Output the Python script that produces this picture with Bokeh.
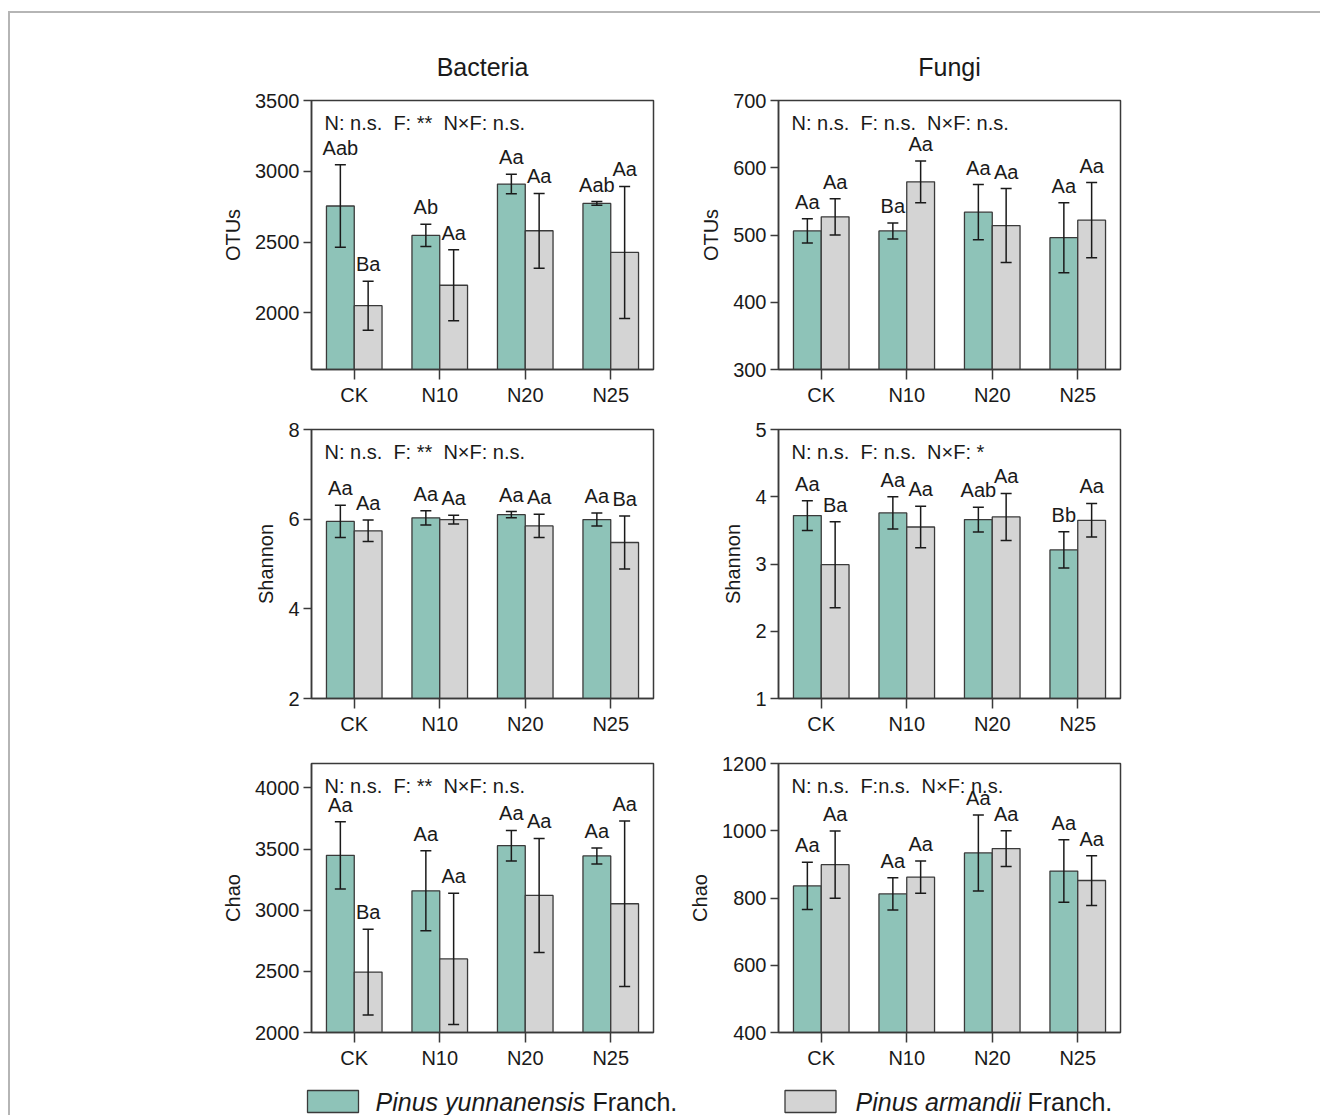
from bokeh.plotting import figure
from bokeh.models import FactorRange, Range1d, FixedTicker, Label, ColumnDataSource
from bokeh.transform import dodge
from bokeh.layouts import column, row
from bokeh.core.properties import value
from bokeh.embed import file_html
from bokeh.resources import INLINE

FONT = "Liberation Sans"
GREEN = "#8ec3b8"
GREY = "#d4d4d4"
EDGE = "#3a3a3a"
SP = "\u00a0\u00a0"

treatments = ["CK", "N10", "N20", "N25"]
species = ["Pinus yunnanensis", "Pinus armandii"]

# ---- Bacteria OTUs ----
bac_otu_py = [2755, 2547, 2910, 2773]
bac_otu_py_err = [292, 79, 69, 13]
bac_otu_pa = [2051, 2195, 2580, 2427]
bac_otu_pa_err = [173, 250, 264, 466]
bac_otu_py_lab = ["Aab", "Ab", "Aa", "Aab"]
bac_otu_pa_lab = ["Ba", "Aa", "Aa", "Aa"]

# ---- Fungi OTUs ----
fun_otu_py = [506, 506, 534, 496]
fun_otu_py_err = [18, 12, 41, 52]
fun_otu_pa = [527, 579, 514, 522]
fun_otu_pa_err = [27, 31, 55, 56]
fun_otu_py_lab = ["Aa", "Ba", "Aa", "Aa"]
fun_otu_pa_lab = ["Aa", "Aa", "Aa", "Aa"]

# ---- Bacteria Shannon ----
bac_sha_py = [5.95, 6.03, 6.10, 5.99]
bac_sha_py_err = [0.36, 0.16, 0.07, 0.145]
bac_sha_pa = [5.74, 5.99, 5.85, 5.48]
bac_sha_pa_err = [0.24, 0.10, 0.26, 0.59]
bac_sha_py_lab = ["Aa", "Aa", "Aa", "Aa"]
bac_sha_pa_lab = ["Aa", "Aa", "Aa", "Ba"]

# ---- Fungi Shannon ----
fun_sha_py = [3.72, 3.76, 3.66, 3.21]
fun_sha_py_err = [0.22, 0.24, 0.185, 0.27]
fun_sha_pa = [2.99, 3.55, 3.70, 3.65]
fun_sha_pa_err = [0.64, 0.31, 0.35, 0.25]
fun_sha_py_lab = ["Aa", "Aa", "Aab", "Bb"]
fun_sha_pa_lab = ["Ba", "Aa", "Aa", "Aa"]

# ---- Bacteria Chao ----
bac_chao_py = [3449, 3159, 3528, 3444]
bac_chao_py_err = [275, 327, 125, 65]
bac_chao_pa = [2494, 2602, 3121, 3053]
bac_chao_pa_err = [350, 536, 466, 677]
bac_chao_py_lab = ["Aa", "Aa", "Aa", "Aa"]
bac_chao_pa_lab = ["Ba", "Aa", "Aa", "Aa"]

# ---- Fungi Chao ----
fun_chao_py = [836, 812, 934, 880]
fun_chao_py_err = [70, 48, 113, 93]
fun_chao_pa = [899, 862, 947, 852]
fun_chao_pa_err = [100, 48, 53, 74]
fun_chao_py_lab = ["Aa", "Aa", "Aa", "Aa"]
fun_chao_pa_lab = ["Aa", "Aa", "Aa", "Aa"]

stats_bac_otu = SP.join(["N: n.s.", "F: **", "N×F: n.s."])
stats_fun_otu = SP.join(["N: n.s.", "F: n.s.", "N×F: n.s."])
stats_bac_sha = SP.join(["N: n.s.", "F: **", "N×F: n.s."])
stats_fun_sha = SP.join(["N: n.s.", "F: n.s.", "N×F: *"])
stats_bac_chao = SP.join(["N: n.s.", "F: **", "N×F: n.s."])
stats_fun_chao = SP.join(["N: n.s.", "F:n.s.", "N×F: n.s."])


def panel(py, py_err, pa, pa_err, py_lab, pa_lab, stats, ylabel, yr, ticks,
          width, height, mb, title=None):
    src = ColumnDataSource(dict(
        cat=treatments,
        py=py, py_lo=[v - e for v, e in zip(py, py_err)], py_hi=[v + e for v, e in zip(py, py_err)],
        pa=pa, pa_lo=[v - e for v, e in zip(pa, pa_err)], pa_hi=[v + e for v, e in zip(pa, pa_err)],
        py_lab=py_lab, pa_lab=pa_lab,
    ))
    p = figure(width=width, height=height,
               x_range=FactorRange(*treatments, range_padding=0),
               y_range=Range1d(yr[0], yr[1]),
               output_backend="svg", toolbar_location=None,
               min_border_left=mb[0], min_border_right=mb[1],
               min_border_top=mb[2], min_border_bottom=mb[3])
    p.background_fill_color = "white"
    p.border_fill_color = "white"
    p.outline_line_color = EDGE
    p.outline_line_width = 1.5
    p.xgrid.visible = False
    p.ygrid.visible = False
    if title:
        p.title.text = title
        p.title.align = "center"
        p.title.text_font = FONT
        p.title.text_font_size = "25px"
        p.title.text_font_style = "normal"
        p.title.text_color = "#1a1a1a"
        p.title.standoff = 39

    for ax in (p.xaxis[0], p.yaxis[0]):
        ax.axis_line_color = EDGE
        ax.axis_line_width = 1.5
        ax.major_tick_line_color = EDGE
        ax.major_tick_line_width = 1.5
        ax.major_tick_in = 0
        ax.minor_tick_line_color = None
        ax.major_label_text_font = FONT
        ax.major_label_text_font_size = "20px"
        ax.major_label_text_color = "#1a1a1a"
    p.xaxis.major_tick_out = 10
    p.xaxis.major_label_standoff = 4
    p.yaxis.major_tick_out = 8
    p.yaxis.major_label_standoff = 4
    p.yaxis.ticker = FixedTicker(ticks=ticks)
    p.yaxis.axis_label = ylabel
    p.yaxis.axis_label_text_font = FONT
    p.yaxis.axis_label_text_font_size = "20px"
    p.yaxis.axis_label_text_font_style = "normal"
    p.yaxis.axis_label_text_color = "#1a1a1a"
    p.yaxis.axis_label_standoff = 8

    off = 0.1625
    bw = 0.325
    for key, o, col in (("py", -off, GREEN), ("pa", off, GREY)):
        xs = dodge("cat", o, range=p.x_range)
        p.vbar(x=xs, top=key, bottom=yr[0], width=bw, source=src,
               fill_color=col, line_color=EDGE, line_width=1.3)
        p.segment(x0=xs, y0=key + "_lo", x1=xs, y1=key + "_hi", source=src,
                  line_color="#1a1a1a", line_width=1.5)
        for end in ("_lo", "_hi"):
            p.scatter(x=xs, y=key + end, marker="dash", size=11, source=src,
                      line_color="#1a1a1a", line_width=1.5)
        p.text(x=xs, y=key + "_hi", text=key + "_lab", source=src,
               text_align="center", text_baseline="bottom", y_offset=-6,
               text_font=value(FONT), text_font_size="20px", text_color="#1a1a1a")

    p.add_layout(Label(x=0, y=yr[1], x_offset=13, y_offset=-22, text=stats,
                       text_baseline="middle", text_align="left",
                       text_font=FONT, text_font_size="20px", text_color="#1a1a1a"))
    return p


WL, WR = 655, 655
MBL = (301, 12)
MBR = (113, 200)

p1 = panel(bac_otu_py, bac_otu_py_err, bac_otu_pa, bac_otu_pa_err, bac_otu_py_lab, bac_otu_pa_lab,
           stats_bac_otu, "OTUs", (1600, 3500), [2000, 2500, 3000, 3500], WL, 397, MBL + (87, 41), "Bacteria")
p2 = panel(fun_otu_py, fun_otu_py_err, fun_otu_pa, fun_otu_pa_err, fun_otu_py_lab, fun_otu_pa_lab,
           stats_fun_otu, "OTUs", (300, 700), [300, 400, 500, 600, 700], WR, 397, MBR + (87, 41), "Fungi")
p3 = panel(bac_sha_py, bac_sha_py_err, bac_sha_pa, bac_sha_pa_err, bac_sha_py_lab, bac_sha_pa_lab,
           stats_bac_sha, "Shannon", (2, 8), [2, 4, 6, 8], WL, 330, MBL + (19, 42))
p4 = panel(fun_sha_py, fun_sha_py_err, fun_sha_pa, fun_sha_pa_err, fun_sha_py_lab, fun_sha_pa_lab,
           stats_fun_sha, "Shannon", (1, 5), [1, 2, 3, 4, 5], WR, 330, MBR + (19, 42))
p5 = panel(bac_chao_py, bac_chao_py_err, bac_chao_pa, bac_chao_pa_err, bac_chao_py_lab, bac_chao_pa_lab,
           stats_bac_chao, "Chao", (2000, 4200), [2000, 2500, 3000, 3500, 4000], WL, 335, MBL + (23, 43))
p6 = panel(fun_chao_py, fun_chao_py_err, fun_chao_pa, fun_chao_pa_err, fun_chao_py_lab, fun_chao_pa_lab,
           stats_fun_chao, "Chao", (400, 1200), [400, 600, 800, 1000, 1200], WR, 335, MBR + (23, 43))

# ---- legend strip ----
LH = 40
leg = figure(width=WL + WR, height=LH, x_range=Range1d(0, WL + WR), y_range=Range1d(LH, 0),
             output_backend="svg", toolbar_location=None,
             min_border_left=0, min_border_right=0, min_border_top=0, min_border_bottom=0)
leg.axis.visible = False
leg.xgrid.visible = False
leg.ygrid.visible = False
leg.outline_line_color = None
leg.border_fill_color = "white"
leg_src = ColumnDataSource(dict(
    bx=[322.5, 800], by=[26, 26], col=[GREEN, GREY],
    tx=[365, 845], name=species, fx=[582, 1017], suffix=["Franch.", "Franch."],
))
leg.rect(x="bx", y="by", width=51, height=22, fill_color="col", line_color=EDGE, line_width=1.3, source=leg_src)
leg.text(x="tx", y="by", text="name", source=leg_src, text_baseline="middle",
         text_font=value(FONT), text_font_size="25px", text_font_style="italic", text_color="#1a1a1a")
leg.text(x="fx", y="by", text="suffix", source=leg_src, text_baseline="middle",
         text_font=value(FONT), text_font_size="25px", text_color="#1a1a1a")

root = column(row(p1, p2), row(p3, p4), row(p5, p6), leg,
              styles={"border-top": "2px solid #b5b5b5", "border-left": "2px solid #b5b5b5",
                      "margin-left": "8px", "margin-top": "11px"})

open("out.html", "w").write(file_html(root, INLINE))
